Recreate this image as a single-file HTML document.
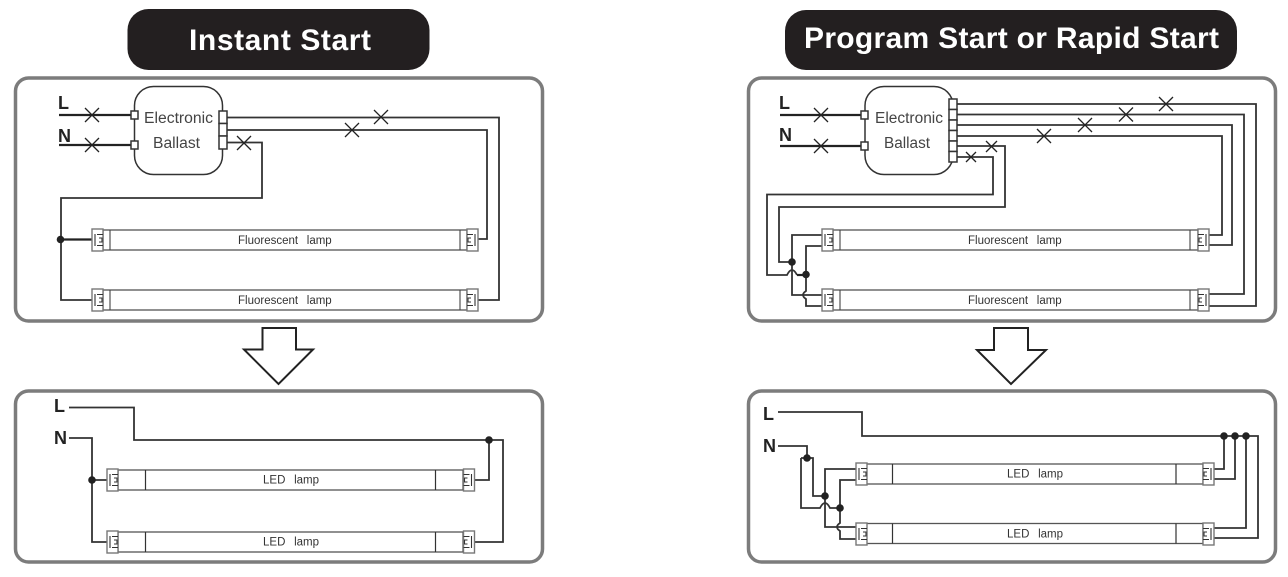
<!DOCTYPE html>
<html><head><meta charset="utf-8"><style>
html,body{margin:0;padding:0;background:#fff}
svg{display:block}
text{font-family:"Liberation Sans",sans-serif;white-space:pre}
.t{fill:none;stroke:#333;stroke-width:1.8}
.x{fill:none;stroke:#222;stroke-width:1.3}
.p{fill:#fff;stroke:#7c7c7c;stroke-width:3.5}
.b{fill:#fff;stroke:#333;stroke-width:1.5}
.g{fill:#fff;stroke:#777;stroke-width:1.4}
.tube{fill:#fff;stroke:#555;stroke-width:1.3}
.d{fill:#222}
.lb{font-size:11.500px;fill:#333;word-spacing:5.500px}
.bl{font-size:15.500px;fill:#444}
.ln{font-size:18px;font-weight:bold;fill:#222}
.ti{font-size:30px;font-weight:bold;fill:#fff}
</style></head><body>
<svg width="1288" height="577" viewBox="0 0 1288 577" xmlns="http://www.w3.org/2000/svg">
<defs>
<g id="cl"><rect class="g" x="0" y="0" width="11" height="22"/><path d="M3 5V17M5 5.500H11M5 16.500H11M7 9H10V13H7" fill="none" stroke="#333" stroke-width="1.100"/></g>
<g id="cr"><rect class="g" x="0" y="0" width="11" height="22"/><path d="M8 5V17M0 5.500H6M0 16.500H6M4 9H1V13H4" fill="none" stroke="#333" stroke-width="1.100"/></g>
</defs>

<!-- titles -->
<rect x="127.500" y="9" width="302" height="61" rx="21" fill="#231f20"/>
<text class="ti" x="189" y="50" textLength="182" lengthAdjust="spacing">Instant Start</text>
<rect x="785" y="10" width="452" height="60" rx="21" fill="#231f20"/>
<text class="ti" x="804" y="48" textLength="415" lengthAdjust="spacing">Program Start or Rapid Start</text>

<!-- panels -->
<rect class="p" x="15.500" y="78" width="527" height="243" rx="13"/>
<rect class="p" x="15.500" y="391" width="527" height="171" rx="13"/>
<rect class="p" x="748.500" y="78" width="527" height="243" rx="13"/>
<rect class="p" x="748.500" y="391" width="527" height="171" rx="13"/>

<!-- arrows -->
<path d="M262.500 328H296V349.500H313L278.500 384L244 349.500H262.500Z" fill="#fff" stroke="#222" stroke-width="2"/>
<path d="M994 328H1028V350H1046L1011 384L977 350H994Z" fill="#fff" stroke="#222" stroke-width="2"/>

<!-- TOP LEFT -->
<text class="ln" x="58" y="109">L</text>
<text class="ln" x="58" y="142">N</text>
<path d="M59 115H131M59 145H131" fill="none" stroke="#222" stroke-width="2.200"/>
<path class="x" d="M85 108L99 122M99 108L85 122M85 138L99 152M99 138L85 152"/>
<rect class="b" x="134.500" y="86.500" width="88" height="88" rx="19"/>
<rect class="b" x="131" y="111" width="7" height="8"/>
<rect class="b" x="131" y="141" width="7" height="8"/>
<rect class="b" x="219" y="111" width="8" height="12.500"/>
<rect class="b" x="219" y="123.500" width="8" height="12.500"/>
<rect class="b" x="219" y="136" width="8" height="13"/>
<text class="bl" x="144" y="123" textLength="69" lengthAdjust="spacingAndGlyphs">Electronic</text>
<text class="bl" x="153" y="148" textLength="47" lengthAdjust="spacingAndGlyphs">Ballast</text>
<path class="t" d="M227 117.500H499V300H478M227 130H487V239H478M227 142.500H262V198H61V300H92"/>
<path d="M61 239.500H92" fill="none" stroke="#222" stroke-width="2.200"/>
<circle class="d" cx="60.500" cy="239.500" r="3.800"/>
<path class="x" d="M374 110L388 124M388 110L374 124M345 123L359 137M359 123L345 137M237 136L251 150M251 136L237 150"/>
<rect class="tube" x="103" y="230" width="364" height="20"/>
<rect class="tube" x="103" y="290" width="364" height="20"/>
<path d="M110 230V250M460 230V250M110 290V310M460 290V310" stroke="#444" stroke-width="1.100" fill="none"/>
<use href="#cl" x="92" y="229"/><use href="#cl" x="92" y="289"/>
<use href="#cr" x="467" y="229"/><use href="#cr" x="467" y="289"/>
<text class="lb" x="238" y="244">Fluorescent lamp</text>
<text class="lb" x="238" y="304">Fluorescent lamp</text>

<!-- BOTTOM LEFT -->
<text class="ln" x="54" y="412">L</text>
<text class="ln" x="54" y="444">N</text>
<path class="t" d="M69 407.500H134V440H503V542H475M489 440V480H475M69 438H92V542H107M92 480H107"/>
<circle class="d" cx="92" cy="480" r="3.800"/>
<circle class="d" cx="489" cy="440" r="3.800"/>
<rect class="tube" x="118" y="470" width="345" height="20"/>
<rect class="tube" x="118" y="532" width="345" height="20"/>
<path d="M145.500 470V490M435.500 470V490M145.500 532V552M435.500 532V552" stroke="#333" stroke-width="1.200" fill="none"/>
<use href="#cl" x="107" y="469"/><use href="#cl" x="107" y="531"/>
<use href="#cr" x="463.500" y="469"/><use href="#cr" x="463.500" y="531"/>
<text class="lb" x="263" y="483.500">LED lamp</text>
<text class="lb" x="263" y="545.500">LED lamp</text>

<!-- TOP RIGHT -->
<text class="ln" x="779" y="109">L</text>
<text class="ln" x="779" y="141">N</text>
<path d="M780 115H861M780 146H861" fill="none" stroke="#222" stroke-width="2.200"/>
<path class="x" d="M814 108L828 122M828 108L814 122M814 139L828 153M828 139L814 153"/>
<rect class="b" x="865" y="86.500" width="88" height="88" rx="19"/>
<rect class="b" x="861" y="111" width="7" height="8"/>
<rect class="b" x="861" y="142" width="7" height="8"/>
<g>
<rect class="b" x="949" y="99" width="8" height="10.500"/><rect class="b" x="949" y="109.500" width="8" height="10.500"/>
<rect class="b" x="949" y="120" width="8" height="10.500"/><rect class="b" x="949" y="130.500" width="8" height="10.500"/>
<rect class="b" x="949" y="141" width="8" height="10.500"/><rect class="b" x="949" y="151.500" width="8" height="10.500"/>
</g>
<text class="bl" x="875" y="123" textLength="68" lengthAdjust="spacingAndGlyphs">Electronic</text>
<text class="bl" x="884" y="148" textLength="46" lengthAdjust="spacingAndGlyphs">Ballast</text>
<path class="t" d="M957 104H1256V306H1209M957 114.500H1244V294H1209M957 125H1232V245H1209M957 136H1222V235H1209"/>
<path class="t" d="M957 146H1005V207H779V262H792M957 157H993V194.500H767V275H787Q792 265 797 275"/>
<path d="M797 275H806" fill="none" stroke="#222" stroke-width="2.200"/>
<path class="t" d="M822 235H792V295H822M822 246H806V291Q800 295 806 299V306H822"/>
<circle class="d" cx="792" cy="262" r="3.800"/>
<circle class="d" cx="806" cy="274.500" r="3.800"/>
<path class="x" d="M1159 97L1173 111M1173 97L1159 111M1119 107.500L1133 121.500M1133 107.500L1119 121.500M1078 118L1092 132M1092 118L1078 132M1037 129L1051 143M1051 129L1037 143M986 141L997 152M997 141L986 152M966 152L976 162M976 152L966 162"/>
<rect class="tube" x="833" y="230" width="365" height="20"/>
<rect class="tube" x="833" y="290" width="365" height="20"/>
<path d="M840 230V250M1190 230V250M840 290V310M1190 290V310" stroke="#444" stroke-width="1.100" fill="none"/>
<use href="#cl" x="822" y="229"/><use href="#cl" x="822" y="289"/>
<use href="#cr" x="1198" y="229"/><use href="#cr" x="1198" y="289"/>
<text class="lb" x="968" y="244">Fluorescent lamp</text>
<text class="lb" x="968" y="304">Fluorescent lamp</text>

<!-- BOTTOM RIGHT -->
<text class="ln" x="763" y="420">L</text>
<text class="ln" x="763" y="452">N</text>
<path class="t" d="M778 412H862V436H1258V538H1214M1224 436V469H1214M1235 436V479H1214M1246 436V528H1214"/>
<path class="t" d="M778 446H807V458M801 458H813V496H825M801 458V508H820Q825 498 830 508H840"/>
<path class="t" d="M856 469H825V527H856M856 480H840V523Q834 527 840 531V539H856"/>
<circle class="d" cx="807" cy="458" r="3.800"/>
<circle class="d" cx="825" cy="496" r="3.800"/>
<circle class="d" cx="840" cy="508" r="3.800"/>
<circle class="d" cx="1224" cy="436" r="3.800"/>
<circle class="d" cx="1235" cy="436" r="3.800"/>
<circle class="d" cx="1246" cy="436" r="3.800"/>
<rect class="tube" x="866" y="464" width="337" height="20"/>
<rect class="tube" x="866" y="523.500" width="337" height="20"/>
<path d="M892.500 464V484M1176 464V484M892.500 523.500V543.500M1176 523.500V543.500" stroke="#333" stroke-width="1.200" fill="none"/>
<use href="#cl" x="856" y="463"/><use href="#cl" x="856" y="523"/>
<use href="#cr" x="1203" y="463"/><use href="#cr" x="1203" y="523"/>
<text class="lb" x="1007" y="477.500">LED lamp</text>
<text class="lb" x="1007" y="537.500">LED lamp</text>
</svg>
</body></html>
